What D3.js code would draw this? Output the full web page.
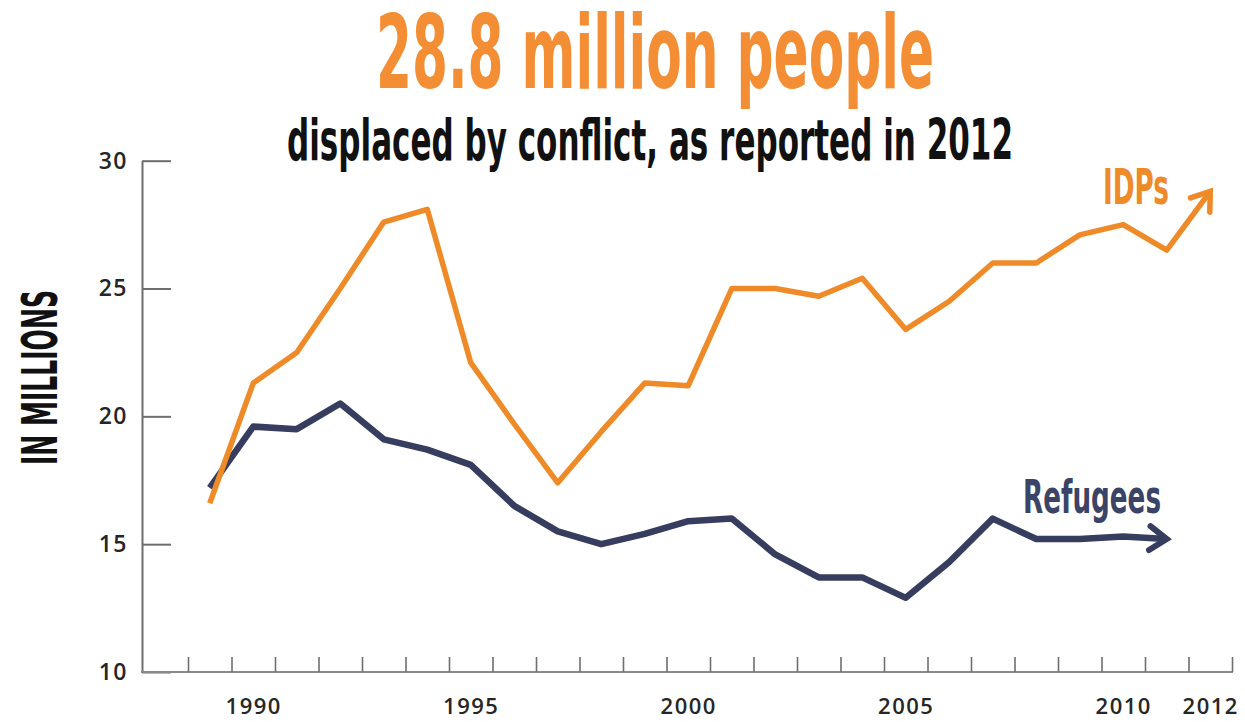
<!DOCTYPE html>
<html>
<head>
<meta charset="utf-8">
<script src="https://cdn.jsdelivr.net/npm/d3@7"></script>
<style>
  html, body { margin: 0; padding: 0; background: #fff; }
  svg { display: block; }
</style>
</head>
<body>
<svg id="chart" width="1245" height="722"></svg>
<script>
// ---- data ----
const years = [1989, 1990, 1991, 1992, 1993, 1994, 1995, 1996, 1997, 1998, 1999, 2000,
               2001, 2002, 2003, 2004, 2005, 2006, 2007, 2008, 2009, 2010, 2011, 2012];
const idps = [16.6, 21.3, 22.5, 25.0, 27.6, 28.1, 22.1, 19.7, 17.4, 19.4, 21.3, 21.2,
              25.0, 25.0, 24.7, 25.4, 23.4, 24.5, 26.0, 26.0, 27.1, 27.5, 26.5, 28.8];
const refugeeYears = [1989, 1990, 1991, 1992, 1993, 1994, 1995, 1996, 1997, 1998, 1999, 2000,
                      2001, 2002, 2003, 2004, 2005, 2006, 2007, 2008, 2009, 2010, 2011];
const refugees = [17.2, 19.6, 19.5, 20.5, 19.1, 18.7, 18.1, 16.5, 15.5, 15.0, 15.4, 15.9,
                  16.0, 14.6, 13.7, 13.7, 12.9, 14.3, 16.0, 15.2, 15.2, 15.3, 15.2];
const yTicks = [10, 15, 20, 25, 30];
const xLabelYears = [1990, 1995, 2000, 2005, 2010, 2012];
const xMinorTicks = [1988.5, 1989.5, 1990.5, 1991.5, 1992.5, 1993.5, 1994.5, 1995.5, 1996.5,
                     1997.5, 1998.5, 1999.5, 2000.5, 2001.5, 2002.5, 2003.5, 2004.5, 2005.5,
                     2006.5, 2007.5, 2008.5, 2009.5, 2010.5, 2011.5, 2012.5];

const ORANGE = "#ef8a28";
const TITLE_ORANGE = "#f48e35";
const NAVY = "#363d5e";

const svg = d3.select("#chart");

const x = d3.scaleLinear().domain([1988.5, 2012.5]).range([188, 1232]);
const y = d3.scaleLinear().domain([10, 30]).range([672, 160.7]);
const axisX0 = 142;

// ---- titles ----
const condensed = "'Liberation Sans Narrow', 'DejaVu Sans Condensed', 'Liberation Sans', sans-serif";
svg.append("text")
  .attr("x", 376).attr("y", 88)
  .attr("font-family", condensed).attr("font-weight", "bold")
  .attr("font-size", 102)
  .attr("textLength", 558).attr("lengthAdjust", "spacingAndGlyphs")
  .attr("fill", TITLE_ORANGE)
  .text("28.8 million people");

svg.append("text")
  .attr("x", 287).attr("y", 160)
  .attr("font-family", condensed).attr("font-weight", "bold")
  .attr("font-size", 57)
  .attr("textLength", 726).attr("lengthAdjust", "spacingAndGlyphs")
  .attr("fill", "#111")
  .text("displaced by conflict, as reported in 2012");

svg.append("text")
  .attr("transform", "translate(57,465) rotate(-90)")
  .attr("font-family", condensed).attr("font-weight", "bold")
  .attr("font-size", 50)
  .attr("textLength", 175).attr("lengthAdjust", "spacingAndGlyphs")
  .attr("fill", "#111")
  .text("IN MILLIONS");

// ---- axes ----
const tickFont = "'Open Sans', 'DejaVu Sans', 'Liberation Sans', sans-serif";

const yAxis = svg.append("g")
  .attr("transform", `translate(${axisX0},0)`)
  .call(d3.axisLeft(y).tickValues(yTicks).tickSizeInner(-29).tickSizeOuter(0).tickPadding(14));
yAxis.select(".domain").attr("stroke", "#6e6e6e").attr("stroke-width", 2);
yAxis.selectAll(".tick line").attr("stroke", "#6e6e6e").attr("stroke-width", 2);
yAxis.selectAll(".tick text")
  .attr("font-family", tickFont).attr("font-size", 23).attr("font-weight", 600)
  .attr("letter-spacing", 1.5)
  .attr("fill", "#262626");

// x axis baseline
svg.append("line")
  .attr("x1", axisX0 - 1).attr("x2", x(2012.5) + 1)
  .attr("y1", y(10)).attr("y2", y(10))
  .attr("stroke", "#8a8a8a").attr("stroke-width", 2);

const xTickAxis = svg.append("g")
  .attr("transform", `translate(0,${y(10)})`)
  .call(d3.axisBottom(x).tickValues(xMinorTicks).tickSizeInner(-15).tickSizeOuter(0).tickFormat(""));
xTickAxis.select(".domain").remove();
xTickAxis.selectAll(".tick line").attr("stroke", "#6e6e6e").attr("stroke-width", 1.6);

const xLabelAxis = svg.append("g")
  .attr("transform", `translate(0,${y(10)})`)
  .call(d3.axisBottom(x).tickValues(xLabelYears).tickSize(0).tickPadding(26).tickFormat(d3.format("d")));
xLabelAxis.select(".domain").remove();
xLabelAxis.selectAll(".tick text")
  .attr("font-family", tickFont).attr("font-size", 22).attr("font-weight", 600)
  .attr("letter-spacing", 1.5)
  .attr("fill", "#262626");

// ---- arrow markers ----
const defs = svg.append("defs");
function marker(id, color, sw) {
  defs.append("marker")
    .attr("id", id)
    .attr("viewBox", "-24 -18 30 36")
    .attr("refX", 0).attr("refY", 0)
    .attr("markerUnits", "userSpaceOnUse")
    .attr("markerWidth", 30).attr("markerHeight", 36)
    .attr("orient", "auto")
    .append("path")
    .attr("d", "M-17,-12 L0,0 L-17,12")
    .attr("fill", "none")
    .attr("stroke", color).attr("stroke-width", sw)
    .attr("stroke-linecap", "round").attr("stroke-linejoin", "miter");
}
marker("arrowOrange", ORANGE, 5.5);
marker("arrowNavy", NAVY, 6);

// ---- lines ----
const line = d3.line().x(d => x(d[0])).y(d => y(d[1]));

svg.append("path")
  .datum(refugeeYears.map((yr, i) => [yr, refugees[i]]))
  .attr("d", line)
  .attr("fill", "none")
  .attr("stroke", NAVY).attr("stroke-width", 6.5)
  .attr("stroke-linejoin", "round")
  .attr("marker-end", "url(#arrowNavy)");

svg.append("path")
  .datum(years.map((yr, i) => [yr, idps[i]]))
  .attr("d", line)
  .attr("fill", "none")
  .attr("stroke", ORANGE).attr("stroke-width", 5.5)
  .attr("stroke-linejoin", "round")
  .attr("marker-end", "url(#arrowOrange)");

// ---- series labels ----
svg.append("text")
  .attr("x", 1103).attr("y", 204)
  .attr("font-family", condensed).attr("font-weight", "bold")
  .attr("font-size", 50)
  .attr("textLength", 66).attr("lengthAdjust", "spacingAndGlyphs")
  .attr("fill", ORANGE)
  .text("IDPs");

svg.append("text")
  .attr("x", 1023).attr("y", 513)
  .attr("font-family", condensed).attr("font-weight", "bold")
  .attr("font-size", 47)
  .attr("textLength", 138).attr("lengthAdjust", "spacingAndGlyphs")
  .attr("fill", "#3b4467")
  .text("Refugees");
</script>
</body>
</html>
